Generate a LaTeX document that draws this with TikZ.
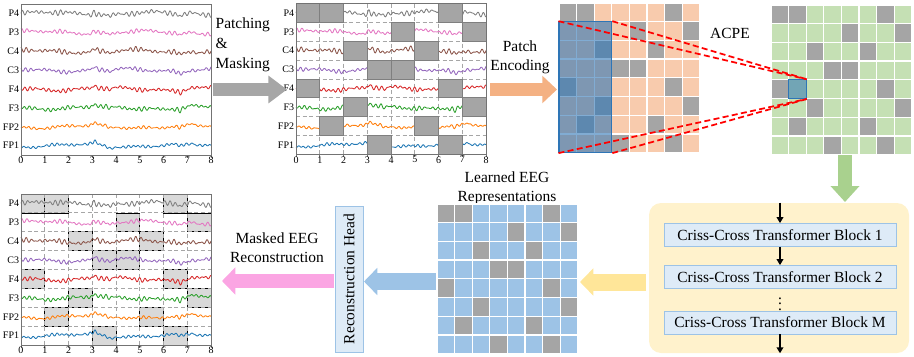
\documentclass[tikz,border=0pt]{standalone}
\usepackage{fontspec}
\setmainfont{Liberation Serif}
\usetikzlibrary{arrows.meta,calc,fit,positioning}
\definecolor{maskgray}{HTML}{A5A5A5}
\definecolor{maskedge}{HTML}{7F7F7F}
\definecolor{lightmask}{HTML}{D9D9D9}
\definecolor{patchorange}{HTML}{F8CBAD}
\definecolor{patchgreen}{HTML}{C5E0B4}
\definecolor{patchblue}{HTML}{9DC3E6}
\definecolor{lensblue}{HTML}{2E75B6}
\definecolor{arrgray}{HTML}{A6A6A6}
\definecolor{arrorange}{HTML}{F4B183}
\definecolor{arrgreen}{HTML}{A9D18E}
\definecolor{arryellow}{HTML}{FFE699}
\definecolor{arrblue}{HTML}{9DC3E6}
\definecolor{arrpink}{HTML}{FBA5E3}
\definecolor{boxyellow}{HTML}{FFF2CC}
\definecolor{blockblue}{HTML}{DEEBF7}
\definecolor{blockedge}{HTML}{9DC3E6}
\definecolor{cFPone}{HTML}{1F77B4}
\definecolor{cFPtwo}{HTML}{FF7F0E}
\definecolor{cFthree}{HTML}{2CA02C}
\definecolor{cFfour}{HTML}{D62728}
\definecolor{cCthree}{HTML}{9467BD}
\definecolor{cCfour}{HTML}{8C564B}
\definecolor{cPthree}{HTML}{E377C2}
\definecolor{cPfour}{HTML}{7F7F7F}

% masked patches: row/{columns}, rows P4 ... FP1
\def\masklist{0/{0,1,6},1/{4,7},2/{2,5},3/{3,4},4/{0,6},5/{2,7},6/{1,5},7/{3,6}}

% eight channels of one recording, frame top-left at (#1,#2)
\newcommand\eegtraces[3]{%
  \foreach \lab/\col/\ph/\nz [count=\i from 0] in
      {P4/cPfour/0/1.4, P3/cPthree/37/1.1, C4/cCfour/74/1.3, C3/cCthree/111/1.1,
       F4/cFfour/148/1.2, F3/cFthree/185/1.2, FP2/cFPtwo/222/0.9, FP1/cFPone/259/0.9}{
    \draw[trace, \col] plot[domain=0:8, samples=260]
      ({#1+23.75*\x}, {#2+9.44+18.875*\i-eeg(\x,\ph,\nz)});
    \node[chlabel] (#3-\lab) at ({#1-1}, {#2+9.44+18.875*\i}) {\lab};
  }
}
\newcommand\eegframe[3]{%
  \draw[axis] (#1,#2) rectangle ++(190,151);
  \foreach \k in {0,...,8}{
    \draw[axis] ({#1+23.75*\k},{#2+151}) -- ++(0,2.5);
    \node[ticklab] (#3-t\k) at ({#1+23.75*\k},{#2+152}) {\k};
  }
}
\newcommand\eeggrid[2]{%
  \foreach \k in {1,...,7}{
    \draw[gridline] ({#1+23.75*\k},#2) -- ++(0,151);
    \draw[gridline] (#1,{#2+18.875*\k}) -- ++(190,0);
  }
}
\newcommand\eegmask[3]{%
  \foreach \r/\cs in \masklist
    \foreach \c in \cs
      \draw[#3] ({#1+23.75*\c},{#2+18.875*\r}) rectangle ++(23.75,18.875);
}
% 8x8 patch grid, cells named #1-row-col
\newcommand\patchgrid[4]{%
  \foreach \r in {0,...,7}
    \foreach \c in {0,...,7}
      \node[cell, fill=#4] (#1-\r-\c) at ({#2+17.6*(\c+0.5)}, {#3+18.7*(\r+0.5)}) {};
  \foreach \r/\cs in \masklist
    \foreach \c in \cs
      \draw[cell edge, fill=maskgray] (#1-\r-\c.south west) rectangle (#1-\r-\c.north east);
}

\begin{document}
\begin{tikzpicture}[x=0.75pt, y=-0.75pt,
    font=\fontsize{11.6}{14.5}\selectfont,
    declare function={
      bmp(\x,\m,\w)=1/(1+((\x-\m)/\w)^2);
      eeg(\x,\p,\n)=3.4*bmp(\x,3.1,0.07)-2.2*bmp(\x,3.75,0.1)-2.5*bmp(\x,6.7,0.1)
        +1.6*bmp(\x,7.2,0.08)+1.4*sin(80*\x+\p)+0.8*sin(210*\x+2*\p)
        +\n*(0.9*sin(1790*\x+\p)+0.7*sin(1330*\x+2*\p)+0.5*sin(1570*\x+\p));
    },
    cell/.style={rectangle, draw=white, line width=1pt, inner sep=0pt, outer sep=0pt,
      minimum width=13.2pt, minimum height=14pt},
    cell edge/.style={draw=white, line width=1pt},
    lensbox/.style={inner sep=0pt, draw=lensblue, line width=0.8pt, fill=lensblue, fill opacity=0.6},
    lensline/.style={red, line width=1.3pt, dash pattern=on 4.5pt off 2.5pt},
    axis/.style={draw=black!55, line width=0.5pt},
    gridline/.style={draw=black!35, line width=0.6pt, dash pattern=on 3pt off 2pt},
    trace/.style={line width=0.65pt, line join=round},
    chlabel/.style={font=\fontsize{7.5}{8}\selectfont, inner sep=0.5pt, anchor=east},
    ticklab/.style={font=\fontsize{7.5}{8}\selectfont, inner sep=0.5pt, anchor=north},
    hardmask/.style={fill=maskgray, draw=maskedge, line width=0.6pt},
    softmask/.style={fill=lightmask},
    bigarrow/.style n args={3}{line width=#1, -{Triangle[length=#2, width=#3]}},
    flow/.style={black, line width=1.2pt, -{Triangle[length=4.5pt, width=5pt]}},
    block/.style={draw=blockedge, fill=blockblue, line width=0.6pt, minimum width=174pt,
      minimum height=17.25pt, inner sep=0pt}
  ]
  \useasboundingbox (0,0) rectangle (914,357);

  % raw recording
  \eegtraces{21}{4}{raw}
  \eegframe{21}{4}{raw}

  % patched and masked recording
  \eeggrid{296}{3.5}
  \eegtraces{296}{3.5}{msk}
  \eegmask{296}{3.5}{hardmask}
  \eegframe{296}{3.5}{msk}

  % reconstructed recording
  \eegmask{21}{194}{softmask}
  \eeggrid{21}{194}
  \eegtraces{21}{194}{rec}
  \eegframe{21}{194}{rec}

  \node[align=left, anchor=west, font=\fontsize{11.6}{15}\selectfont] (pmtext) at (211,45) {Patching\\\&\\Masking};
  \node[align=center] (petext) at (520,57.5) {Patch\\Encoding};
  \node (acpe) at (730,33) {ACPE};
  \node[align=center] (lertext) at (507,188) {Learned EEG\\Representations};
  \node[align=center] (mertext) at (277,247.5) {Masked EEG\\Reconstruction};

  % patch grids
  \patchgrid{og}{559}{3}{patchorange}
  \node[lensbox, fit=(og-1-0)(og-7-2)] (lens) {};
  \patchgrid{gg}{771}{5}{patchgreen}
  \node[lensbox, fill opacity=0.55, fit=(gg-4-1)] (hl) {};
  \patchgrid{bg}{437}{204}{patchblue}

  \draw[lensline] (lens.north west) -- (hl.north east);
  \draw[lensline] (lens.north east) -- (hl.north east);
  \draw[lensline] (lens.south west) -- (hl.south east);
  \draw[lensline] (lens.south east) -- (hl.south east);

  % criss-cross transformer
  \node[fill=boxyellow, rounded corners=9pt, minimum width=195pt, minimum height=112.5pt] (tbox) at (779,278) {};
  \node[block] (blk1) at (780,235) {Criss-Cross Transformer Block 1};
  \node[block] (blk2) at (780,277) {Criss-Cross Transformer Block 2};
  \node[block] (blkM) at (780,322.5) {Criss-Cross Transformer Block M};
  \node[inner sep=0pt] (bdots) at (780,300) {$\vdots$};
  \draw[flow] (blk1.north |- tbox.north) -- (blk1.north);
  \draw[flow] (blk1.south) -- (blk2.north);
  \draw[flow] (blkM.south) -- (blkM.south |- tbox.south);

  \node[draw=blockedge, fill=blockblue, line width=0.6pt, minimum width=109.5pt, minimum height=21pt,
    inner sep=0pt, rotate=90] (rhead) at (349,279) {Reconstruction Head};

  % big arrows
  \coordinate (pm-a) at (213,89.5);   \coordinate (pm-b) at (287,89.5);
  \coordinate (pe-a) at (490,89.5);   \coordinate (pe-b) at (557,89.5);
  \coordinate (gr-a) at (845,155);    \coordinate (gr-b) at (845,202);
  \coordinate (ye-a) at (646,282);    \coordinate (ye-b) at (580,282);
  \coordinate (bl-a) at (436,281.5);  \coordinate (bl-b) at (364,281.5);
  \coordinate (pk-a) at (334,281);    \coordinate (pk-b) at (222,281);
  \draw[bigarrow={9.75pt}{14pt}{20pt}, arrgray] (pm-a) -- (pm-b);
  \draw[bigarrow={9.75pt}{11pt}{20pt}, arrorange] (pe-a) -- (pe-b);
  \draw[bigarrow={10.5pt}{12pt}{21pt}, arrgreen] (gr-a) -- (gr-b);
  \draw[bigarrow={12.75pt}{10pt}{20pt}, arryellow] (ye-a) -- (ye-b);
  \draw[bigarrow={12.75pt}{10pt}{20pt}, arrblue] (bl-a) -- (bl-b);
  \draw[bigarrow={10.5pt}{10pt}{20pt}, arrpink] (pk-a) -- (pk-b);
\end{tikzpicture}
\end{document}
